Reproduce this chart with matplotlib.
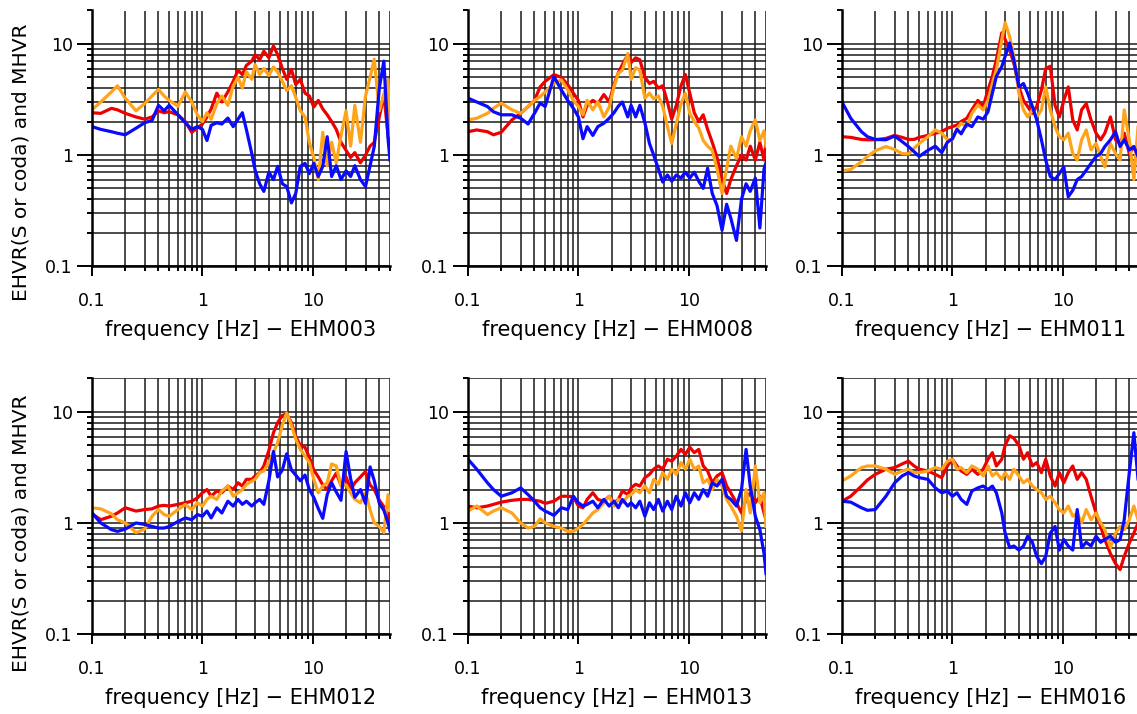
import matplotlib
matplotlib.use("Agg")
import matplotlib.pyplot as plt
from matplotlib.ticker import LogLocator, NullFormatter

# common frequency sampling [Hz]
freq = [0.1, 0.12, 0.15, 0.17, 0.2, 0.25, 0.3, 0.35, 0.4, 0.45, 0.5,
        0.6, 0.7, 0.8, 0.9, 1.0, 1.1, 1.2, 1.35, 1.5, 1.7, 1.9,
        2.1, 2.3, 2.5, 2.8, 3.0, 3.3, 3.6, 4.0, 4.4, 4.8, 5.3, 5.8,
        6.4, 7.0, 7.7, 8.5, 9.3, 10.2, 11.2, 12.3, 13.5, 14.8, 16.3,
        18, 20, 22, 24, 27, 30, 33, 36, 40, 44, 48, 50]

# EHM003
ehm003_red = [2.4, 2.37, 2.63, 2.55, 2.37, 2.2, 2.1, 2.2, 2.5, 2.4, 2.45,
              2.3, 2.0, 1.6, 1.75, 1.9, 2.2, 2.6, 3.6, 3.0, 3.7, 4.6,
              5.8, 5.3, 6.4, 7.0, 8.0, 7.2, 8.6, 7.5, 9.6, 8.0, 6.0, 4.8,
              5.9, 4.3, 4.8, 3.6, 3.4, 2.7, 3.1, 2.6, 2.3, 2.0, 1.7,
              1.3, 1.1, 0.95, 1.05, 0.85, 1.0, 1.2, 1.3, 2.2, 3.5, 1.5, 1.2]
ehm003_orange = [2.55, 3.0, 3.7, 4.2, 3.25, 2.5, 2.9, 3.4, 3.9, 3.4, 3.1,
                 2.75, 3.7, 3.0, 2.3, 2.0, 2.4, 2.1, 2.9, 3.4, 2.8, 4.2,
                 5.0, 4.0, 5.6, 4.8, 6.5, 5.3, 6.0, 5.2, 6.2, 5.6, 4.6, 3.8,
                 4.2, 3.3, 2.5, 2.2, 1.3, 0.95, 0.6, 1.6, 0.8, 1.3, 0.85,
                 1.5, 2.5, 1.2, 2.8, 1.3, 3.4, 5.0, 7.3, 2.5, 3.5, 4.8, 1.5]
ehm003_blue = [1.8, 1.7, 1.62, 1.57, 1.52, 1.74, 1.95, 2.05, 2.8, 2.5, 2.8,
               2.3, 1.95, 1.7, 1.8, 1.7, 1.35, 1.85, 1.95, 1.9, 2.15, 1.8,
               2.1, 2.4, 1.7, 1.03, 0.73, 0.55, 0.47, 0.7, 0.6, 0.79, 0.55, 0.52,
               0.37, 0.45, 0.79, 0.84, 0.68, 0.84, 0.64, 0.79, 1.46, 0.64, 0.8,
               0.6, 0.72, 0.64, 0.8, 0.6, 0.52, 0.8, 1.19, 4.0, 7.0, 1.4, 0.9]

# EHM008
ehm008_red = [1.62, 1.68, 1.62, 1.52, 1.6, 2.07, 2.37, 2.73, 3.1, 4.1, 4.6,
              5.3, 5.0, 4.3, 3.6, 3.1, 2.2, 2.8, 3.1, 2.9, 3.5, 3.0,
              4.3, 5.5, 6.5, 8.0, 6.8, 7.5, 7.2, 5.0, 4.4, 4.6, 4.0, 4.2,
              3.0, 2.1, 2.8, 4.2, 5.3, 3.6, 2.4, 2.0, 2.3, 1.7, 1.3,
              0.95, 0.6, 0.45, 0.6, 0.8, 1.0, 0.9, 1.2, 0.9, 1.3, 0.9, 1.3]
ehm008_orange = [2.07, 2.14, 2.37, 2.63, 2.93, 2.55, 2.37, 2.73, 3.1, 3.35, 3.7,
                 4.4, 4.75, 3.85, 3.1, 2.73, 2.3, 3.1, 2.55, 3.0, 2.2, 2.7,
                 4.1, 5.45, 5.8, 8.2, 4.8, 6.1, 5.8, 3.25, 3.6, 3.2, 3.4, 2.75,
                 1.8, 1.27, 1.9, 2.9, 3.6, 2.37, 2.0, 1.75, 1.35, 1.2, 1.1,
                 0.75, 0.45, 0.75, 1.2, 0.93, 1.46, 1.2, 1.65, 2.07, 1.35, 1.65, 1.2]
ehm008_blue = [3.25, 3.0, 2.73, 2.45, 2.3, 2.3, 2.14, 1.9, 2.37, 2.93, 2.73,
               5.1, 3.85, 3.1, 2.63, 2.2, 1.4, 1.8, 1.5, 1.8, 1.93, 2.14,
               2.4, 2.75, 3.0, 2.2, 2.8, 2.2, 2.8, 1.95, 1.27, 1.0, 0.75, 0.57,
               0.66, 0.58, 0.66, 0.62, 0.7, 0.62, 0.7, 0.58, 0.5, 0.76, 0.45,
               0.35, 0.21, 0.36, 0.27, 0.17, 0.4, 0.55, 0.47, 0.62, 0.22, 0.75, 0.85]

# EHM011
ehm011_red = [1.46, 1.44, 1.38, 1.37, 1.37, 1.41, 1.5, 1.44, 1.38, 1.38, 1.44,
              1.5, 1.57, 1.62, 1.74, 1.8, 1.86, 2.0, 2.14, 2.55, 3.1, 2.73,
              3.85, 5.1, 7.2, 12.6, 11.0, 8.8, 6.7, 4.1, 3.1, 2.73, 2.37, 2.73,
              3.85, 6.0, 6.3, 2.8, 2.2, 3.1, 4.1, 2.07, 1.68, 2.55, 2.9,
              2.07, 1.57, 1.37, 1.57, 2.2, 1.37, 1.27, 1.57, 1.03, 1.19, 0.97, 1.1]
ehm011_orange = [0.72, 0.74, 0.87, 0.97, 1.09, 1.19, 1.12, 1.03, 1.02, 1.15, 1.27,
                 1.46, 1.68, 1.57, 1.37, 1.37, 1.74, 1.93, 1.8, 2.37, 2.82, 2.55,
                 3.1, 4.4, 5.85, 10.9, 15.5, 11.7, 7.7, 3.6, 2.55, 2.2, 2.55, 2.2,
                 2.55, 4.1, 2.55, 1.8, 1.46, 1.37, 1.57, 1.03, 0.9, 1.37, 1.68,
                 1.11, 1.27, 0.97, 0.78, 1.27, 1.03, 0.9, 2.55, 1.37, 0.6, 1.8, 1.2]
ehm011_blue = [3.0, 2.14, 1.62, 1.46, 1.38, 1.37, 1.48, 1.32, 1.19, 1.07, 0.97,
               1.1, 1.2, 1.05, 1.3, 1.4, 1.7, 1.55, 1.9, 1.8, 2.2, 2.1,
               2.45, 3.6, 5.1, 6.25, 7.7, 10.2, 7.2, 4.1, 4.4, 3.6, 2.73, 2.07,
               1.37, 0.9, 0.64, 0.6, 0.68, 0.78, 0.42, 0.48, 0.6, 0.64, 0.73,
               0.84, 0.97, 1.03, 1.19, 1.37, 1.62, 1.19, 1.37, 1.11, 1.19, 0.97, 1.0]

# EHM012
ehm012_red = [1.21, 1.07, 1.15, 1.23, 1.37, 1.28, 1.32, 1.34, 1.42, 1.44, 1.42,
              1.47, 1.52, 1.57, 1.68, 1.87, 2.0, 1.74, 1.94, 1.87, 2.15, 2.0,
              2.3, 2.15, 2.47, 2.47, 2.65, 2.84, 3.26, 4.5, 6.5, 8.0, 9.3, 9.6,
              8.0, 6.0, 5.0, 4.8, 3.9, 3.0, 2.6, 2.2, 2.0, 2.4, 2.8,
              2.2, 2.6, 2.0, 2.3, 2.6, 2.9, 2.2, 2.0, 1.6, 1.4, 1.2, 1.0]
ehm012_orange = [1.37, 1.34, 1.21, 1.07, 1.0, 0.82, 0.88, 1.15, 1.32, 1.19, 1.15,
                 1.32, 1.47, 1.32, 1.52, 1.42, 1.63, 1.74, 1.63, 1.94, 2.15, 1.74,
                 1.87, 2.0, 2.22, 2.38, 2.47, 2.84, 2.94, 3.5, 4.3, 5.3, 7.6, 9.8,
                 7.6, 5.7, 4.6, 4.0, 3.5, 2.47, 1.87, 2.15, 2.3, 3.4, 3.26,
                 2.15, 2.2, 1.87, 1.63, 1.52, 1.87, 1.32, 1.0, 0.93, 0.82, 1.8, 1.3]
ehm012_blue = [1.23, 1.0, 0.87, 0.84, 0.88, 1.0, 0.97, 0.93, 0.9, 0.9, 0.93,
               1.03, 1.11, 1.07, 1.19, 1.15, 1.28, 1.11, 1.37, 1.23, 1.57, 1.42,
               1.63, 1.47, 1.57, 1.42, 1.52, 1.63, 1.47, 2.4, 4.4, 2.6, 3.0, 4.2,
               3.0, 2.7, 2.4, 2.7, 2.0, 1.7, 1.35, 1.1, 1.8, 2.3, 1.9,
               1.6, 4.4, 2.5, 1.7, 2.0, 1.5, 3.2, 2.4, 1.5, 1.3, 1.0, 0.85]

# EHM013
ehm013_red = [1.42, 1.37, 1.42, 1.47, 1.54, 1.6, 1.63, 1.63, 1.6, 1.57, 1.5,
              1.57, 1.74, 1.74, 1.72, 1.42, 1.37, 1.63, 1.87, 1.63, 1.57, 1.74,
              1.52, 1.63, 1.94, 1.8, 2.07, 2.23, 2.15, 2.56, 2.74, 3.05, 3.26, 3.05,
              3.75, 3.6, 4.0, 4.6, 4.15, 4.8, 4.3, 4.6, 3.26, 2.94, 2.3,
              2.65, 2.84, 2.15, 1.87, 1.52, 1.23, 1.63, 1.87, 1.52, 1.74, 1.23, 1.07]
ehm013_orange = [1.28, 1.42, 1.19, 1.28, 1.37, 1.23, 1.0, 0.9, 0.93, 1.09, 1.0,
                 0.93, 0.9, 0.84, 0.84, 0.9, 0.97, 1.07, 1.23, 1.32, 1.52, 1.74,
                 1.42, 1.63, 1.52, 1.74, 1.8, 2.0, 1.87, 2.15, 1.87, 2.47, 2.23, 2.84,
                 2.47, 3.05, 2.74, 3.5, 3.05, 3.75, 3.05, 3.26, 2.3, 2.47, 2.0,
                 2.47, 2.15, 1.63, 1.42, 1.15, 0.85, 2.0, 1.23, 3.26, 1.52, 1.87, 0.93]
ehm013_blue = [3.75, 3.05, 2.3, 2.0, 1.74, 1.87, 2.07, 1.8, 1.57, 1.37, 1.28,
               1.17, 1.37, 1.32, 1.74, 1.52, 1.42, 1.47, 1.57, 1.37, 1.63, 1.42,
               1.57, 1.37, 1.63, 1.42, 1.52, 1.37, 1.57, 1.15, 1.52, 1.32, 1.63, 1.28,
               1.57, 1.32, 1.74, 1.42, 1.87, 1.52, 1.87, 1.63, 2.0, 1.74, 2.3,
               2.15, 2.47, 1.74, 1.63, 1.42, 2.0, 4.6, 2.15, 1.15, 0.87, 0.53, 0.35]

# EHM016
ehm016_red = [1.57, 1.74, 2.15, 2.44, 2.74, 3.05, 3.15, 3.4, 3.6, 3.26, 3.05,
              2.94, 2.74, 2.56, 3.26, 3.75, 3.26, 2.94, 2.74, 3.05, 2.74, 3.05,
              3.75, 4.3, 3.26, 3.75, 5.0, 6.1, 5.8, 5.0, 3.75, 4.3, 3.26, 3.5,
              2.84, 3.75, 2.65, 2.15, 2.84, 2.3, 2.84, 3.26, 2.47, 2.84, 2.47,
              1.74, 1.23, 0.93, 0.71, 0.53, 0.43, 0.38, 0.5, 0.66, 0.81, 1.0, 0.9]
ehm016_orange = [2.39, 2.65, 3.15, 3.26, 3.26, 3.05, 2.74, 2.94, 3.05, 2.84, 2.84,
                 2.94, 3.15, 3.05, 3.6, 3.75, 3.05, 3.15, 2.84, 3.26, 3.05, 2.65,
                 3.26, 2.65, 2.84, 2.47, 2.84, 2.47, 3.05, 2.65, 2.3, 2.47, 2.15, 2.0,
                 1.87, 1.63, 1.74, 1.52, 1.32, 1.23, 1.42, 1.15, 1.23, 1.0, 1.32,
                 1.07, 1.23, 1.0, 0.87, 0.6, 0.81, 0.93, 0.87, 1.07, 1.42, 1.07, 1.0]
ehm016_blue = [1.57, 1.54, 1.37, 1.3, 1.32, 1.74, 2.3, 2.65, 2.84, 2.65, 2.56,
               2.47, 2.07, 1.87, 1.94, 1.74, 1.87, 1.63, 1.47, 1.94, 2.07, 2.15,
               2.0, 2.15, 1.87, 1.23, 0.81, 0.6, 0.62, 0.57, 0.62, 0.76, 0.67, 0.5,
               0.43, 0.5, 0.81, 0.93, 0.57, 0.71, 0.62, 0.57, 1.32, 0.6, 0.67,
               0.62, 0.76, 0.67, 0.71, 0.76, 0.67, 0.71, 1.07, 2.84, 6.5, 2.47, 1.2]

stations = ["EHM003", "EHM008", "EHM011", "EHM012", "EHM013", "EHM016"]
curves = [
    (ehm003_red, ehm003_orange, ehm003_blue),
    (ehm008_red, ehm008_orange, ehm008_blue),
    (ehm011_red, ehm011_orange, ehm011_blue),
    (ehm012_red, ehm012_orange, ehm012_blue),
    (ehm013_red, ehm013_orange, ehm013_blue),
    (ehm016_red, ehm016_orange, ehm016_blue),
]
colors = ["#ee0000", "#ffa31a", "#0a0aff"]

W, H = 1137, 714
fig = plt.figure(figsize=(W / 100, H / 100), dpi=100)

# panel placement in pixels (left edge, bottom edge measured from top)
col_left = [92, 468, 842]
row_bottom = [266, 634]
ax_w, ax_h = 298, 255.5
xlabel_y = [330, 698]
ylabel_y = [162, 533]

for i, name in enumerate(stations):
    row, col = divmod(i, 3)
    ax = fig.add_axes([col_left[col] / W, 1 - row_bottom[row] / H, ax_w / W, ax_h / H])
    for values, c in zip(curves[i], colors):
        ax.plot(freq, values, color=c, lw=2.3, solid_joinstyle="round")

    ax.set_xscale("log")
    ax.set_yscale("log")
    ax.set_xlim(0.1, 50)
    ax.set_ylim(0.1, 20)
    ax.set_xticks([0.1, 1, 10], labels=["0.1", "1", "10"])
    ax.set_yticks([0.1, 1, 10], labels=["0.1", "1", "10"])
    for axis in (ax.xaxis, ax.yaxis):
        axis.set_minor_locator(LogLocator(base=10, subs=range(2, 10), numticks=30))
        axis.set_minor_formatter(NullFormatter())

    ax.grid(True, which="both", color="0.1", lw=1.1)
    ax.set_axisbelow(True)
    for s in ("top", "right"):
        ax.spines[s].set_visible(False)
    for s in ("left", "bottom"):
        ax.spines[s].set_linewidth(1.8)

    ax.tick_params(axis="y", which="major", length=10.8, width=1.4, pad=3, labelsize=12.5)
    ax.tick_params(axis="y", which="minor", length=3.6, width=1.4)
    ax.tick_params(axis="x", which="major", length=7, width=1.4, pad=11.5, labelsize=12.5)
    ax.tick_params(axis="x", which="minor", length=3.6, width=1.4)

    cx = (col_left[col] + ax_w / 2) / W
    fig.text(cx, 1 - xlabel_y[row] / H, "frequency [Hz] \u2212 " + name,
             ha="center", va="center", fontsize=15)

for y in ylabel_y:
    fig.text(21 / W, 1 - y / H, "EHVR(S or coda) and MHVR", rotation=90,
             ha="center", va="center", fontsize=14.5)

fig.savefig("out.png", dpi=100)
